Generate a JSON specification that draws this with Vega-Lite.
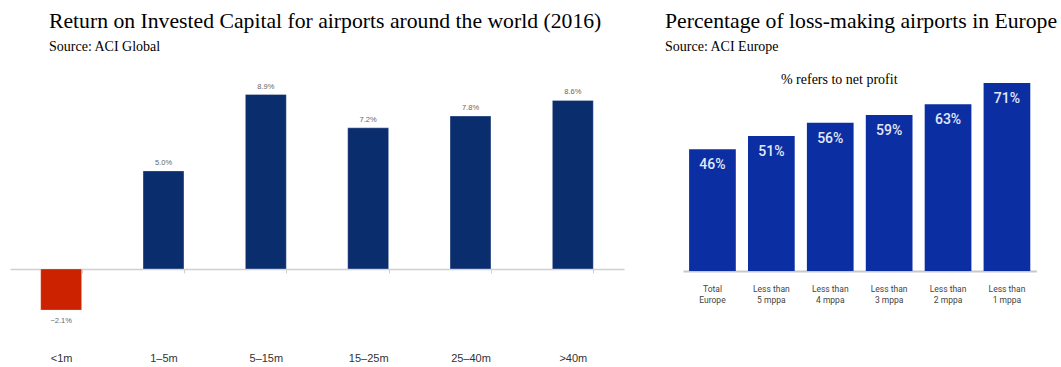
{
  "$schema": "https://vega.github.io/schema/vega-lite/v6.json",
  "background": "white",
  "padding": {"left": 10, "top": 11, "right": 0, "bottom": 0},
  "bounds": "flush",
  "spacing": 59,
  "config": {
    "view": {"stroke": null},
    "title": {"font": "Liberation Serif", "fontSize": 21.7, "fontWeight": "normal", "color": "#000", "subtitleFont": "Liberation Serif", "subtitleFontSize": 14, "subtitleColor": "#000", "anchor": "start", "subtitlePadding": 7, "offset": 16}
  },
  "hconcat": [
    {
      "title": {"text": "Return on Invested Capital for airports around the world (2016)", "subtitle": "Source: ACI Global", "dx": 39},
      "width": 614,
      "height": 275,
      "data": {"values": [
        {"size": "<1m", "roic": -0.021},
        {"size": "1–5m", "roic": 0.050},
        {"size": "5–15m", "roic": 0.089},
        {"size": "15–25m", "roic": 0.072},
        {"size": "25–40m", "roic": 0.078},
        {"size": ">40m", "roic": 0.086}
      ]},
      "encoding": {
        "x": {"field": "size", "type": "nominal", "sort": null,
          "scale": {"paddingInner": 0.6, "paddingOuter": 0.3},
          "axis": {"title": null, "labelAngle": 0, "offset": -76, "domainColor": "#d0d0d0", "domainWidth": 1.5, "tickColor": "#d0d0d0", "tickSize": 4, "tickBand": "extent", "labelPadding": 79, "labelFont": "Liberation Sans", "labelFontSize": 11, "labelColor": "#333"}},
        "y": {"field": "roic", "type": "quantitative", "scale": {"domain": [-0.0388, 0.1015], "nice": false}, "axis": null}
      },
      "layer": [
        {"mark": {"type": "bar", "stroke": "#ffffff", "strokeOpacity": 0.3},
         "encoding": {"color": {"condition": {"test": "datum.roic < 0", "value": "#cc2200"}, "value": "#0a2d6e"}}},
        {"transform": [{"filter": "datum.roic >= 0"}],
         "mark": {"type": "text", "baseline": "bottom", "dy": -4, "font": "Liberation Sans", "fontSize": 7.5, "color": "#666"},
         "encoding": {"text": {"field": "roic", "format": ".1%"}}},
        {"transform": [{"filter": "datum.roic < 0"}],
         "mark": {"type": "text", "baseline": "top", "dy": 7, "font": "Liberation Sans", "fontSize": 7.5, "color": "#666"},
         "encoding": {"text": {"field": "roic", "format": ".1%"}}}
      ]
    },
    {
      "title": {"text": "Percentage of loss-making airports in Europe", "subtitle": "Source: ACI Europe", "dx": -18},
      "width": 353.4,
      "height": 201,
      "data": {"values": [
        {"group": "Total Europe", "share": 0.46},
        {"group": "Less than 5 mppa", "share": 0.51},
        {"group": "Less than 4 mppa", "share": 0.56},
        {"group": "Less than 3 mppa", "share": 0.59},
        {"group": "Less than 2 mppa", "share": 0.63},
        {"group": "Less than 1 mppa", "share": 0.71}
      ]},
      "layer": [
        {"mark": {"type": "bar", "color": "#0b2ea3"},
         "encoding": {
           "x": {"field": "group", "type": "nominal", "sort": null,
             "scale": {"paddingInner": 0.207, "paddingOuter": 0.1035},
             "axis": {"title": null, "labelAngle": 0, "domainColor": "#c8c8c8", "domainWidth": 2, "ticks": false, "labelPadding": 13, "labelFont": "Roboto", "labelFontSize": 8.5, "labelColor": "#444", "labelLineHeight": 11.5,
               "labelExpr": "datum.label == 'Total Europe' ? ['Total', 'Europe'] : ['Less than', replace(datum.label, 'Less than ', '')]"}},
           "y": {"field": "share", "type": "quantitative", "scale": {"domain": [0, 0.7596], "nice": false}, "axis": null}
         }},
        {"mark": {"type": "text", "baseline": "middle", "dy": 16, "font": "Roboto", "fontWeight": 500, "fontSize": 14, "color": "#e2e8f6"},
         "encoding": {
           "x": {"field": "group", "type": "nominal", "sort": null},
           "y": {"field": "share", "type": "quantitative"},
           "text": {"field": "share", "format": ".0%"}
         }},
        {"data": {"values": [{"note": "% refers to net profit"}]},
         "mark": {"type": "text", "baseline": "middle", "dx": 9, "font": "Liberation Serif", "fontWeight": "normal", "fontSize": 14, "color": "#000"},
         "encoding": {
           "x": {"datum": "Less than 4 mppa"},
           "y": {"datum": 0.72},
           "text": {"field": "note"}
         }}
      ]
    }
  ]
}
